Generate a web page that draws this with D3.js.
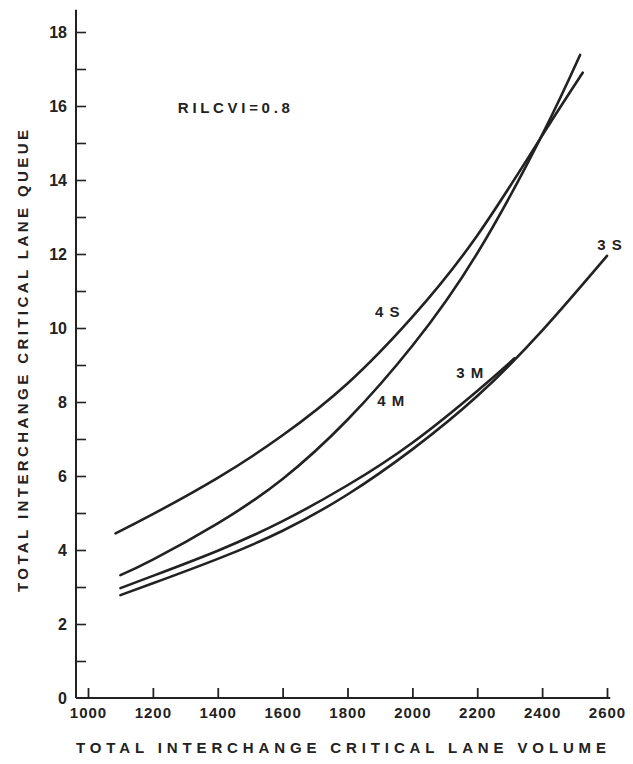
<!DOCTYPE html>
<html>
<head>
<meta charset="utf-8">
<script src="https://cdn.jsdelivr.net/npm/d3@7"></script>
<style>
  html, body { margin: 0; padding: 0; background: #fff; }
  svg { display: block; }
  text { font-family: "Liberation Sans", Arial, Helvetica, sans-serif; fill: #222; }
</style>
</head>
<body>
<svg id="chart" width="633" height="764"></svg>
<script>
// ---- data ----
const volume4S = [1085, 1200, 1400, 1600, 1800, 2000, 2200, 2400, 2525];
const queue4S  = [4.45, 4.97, 5.95, 7.1, 8.5, 10.3, 12.5, 15.2, 16.9];

const volume4M = [1100, 1200, 1400, 1600, 1800, 2000, 2200, 2400, 2517];
const queue4M  = [3.32, 3.74, 4.72, 5.92, 7.52, 9.52, 12.02, 15.22, 17.38];

const volume3M = [1100, 1200, 1400, 1600, 1800, 2000, 2200, 2315];
const queue3M  = [2.97, 3.3, 3.98, 4.78, 5.75, 6.9, 8.3, 9.18];

const volume3S = [1100, 1200, 1400, 1600, 1800, 2000, 2200, 2400, 2600];
const queue3S  = [2.78, 3.1, 3.76, 4.52, 5.5, 6.72, 8.16, 9.93, 11.95];

const seriesNames = ["4 S", "4 M", "3 M", "3 S"];
const labelVolume = [1885, 1892, 2135, 2570];
const labelQueue  = [10.3, 7.9, 8.65, 12.12];

const xTicks = [1000, 1200, 1400, 1600, 1800, 2000, 2200, 2400, 2600];
const yTicks = [0, 1, 2, 3, 4, 5, 6, 7, 8, 9, 10, 11, 12, 13, 14, 15, 16, 17, 18];
const yTickLabels = ["0", "", "2", "", "4", "", "6", "", "8", "", "10", "", "12", "", "14", "", "16", "", "18"];

const noteText = "RILCVI=0.8";
const noteVolume = 1277, noteQueue = 15.81;

const xTitle = "TOTAL INTERCHANGE CRITICAL LANE VOLUME";
const yTitle = "TOTAL INTERCHANGE CRITICAL LANE QUEUE";

// ---- drawing ----
const svg = d3.select("#chart");
const ink = "#222";

const x = d3.scaleLinear().domain([1000, 2600]).range([88, 607]);
const y = d3.scaleLinear().domain([0, 18]).range([698, 32]);

// axis lines
svg.append("line")
  .attr("x1", x(963)).attr("x2", x(963))
  .attr("y1", y(0)).attr("y2", y(18.6))
  .attr("stroke", ink).attr("stroke-width", 2);
svg.append("line")
  .attr("x1", x(963)).attr("x2", x(2610))
  .attr("y1", y(0)).attr("y2", y(0))
  .attr("stroke", ink).attr("stroke-width", 2);

// y axis ticks (inward)
const yAxis = d3.axisLeft(y)
  .tickValues(yTicks)
  .tickSizeInner(-10).tickSizeOuter(0)
  .tickPadding(9)
  .tickFormat((d, i) => yTickLabels[i]);
const gy = svg.append("g").attr("transform", `translate(${x(963)},0)`).call(yAxis);
gy.select(".domain").remove();
gy.selectAll(".tick line").attr("stroke", ink).attr("stroke-width", 1.6);
gy.selectAll(".tick text")
  .attr("font-size", 16).attr("font-weight", "bold")
  .style("font-family", '"Liberation Sans", Arial, sans-serif')
  .attr("fill", ink);
gy.selectAll(".tick").filter(d => d === 0).select("line").remove();

// x axis ticks (inward)
const xAxis = d3.axisBottom(x)
  .tickValues(xTicks)
  .tickSizeInner(-10).tickSizeOuter(0)
  .tickPadding(9)
  .tickFormat(d3.format("d"));
const gx = svg.append("g").attr("transform", `translate(0,${y(0)})`).call(xAxis);
gx.select(".domain").remove();
gx.selectAll(".tick line").attr("stroke", ink).attr("stroke-width", 1.8);
gx.selectAll(".tick text")
  .attr("font-size", 15).attr("font-weight", "bold")
  .attr("letter-spacing", 1)
  .style("font-family", '"Liberation Sans", Arial, sans-serif')
  .attr("fill", ink);

// curves
const seriesData = [
  d3.zip(volume4S, queue4S),
  d3.zip(volume4M, queue4M),
  d3.zip(volume3M, queue3M),
  d3.zip(volume3S, queue3S)
];
const line = d3.line()
  .x(d => x(d[0])).y(d => y(d[1]))
  .curve(d3.curveNatural);
svg.append("g").selectAll("path")
  .data(seriesData).join("path")
  .attr("d", line)
  .attr("fill", "none")
  .attr("stroke", ink)
  .attr("stroke-width", 2.6)
  .attr("stroke-linecap", "round");

// series labels
svg.append("g").selectAll("text")
  .data(seriesNames).join("text")
  .attr("x", (d, i) => x(labelVolume[i]))
  .attr("y", (d, i) => y(labelQueue[i]))
  .attr("font-size", 15).attr("font-weight", "bold")
  .attr("letter-spacing", 1)
  .text(d => d);

// note
svg.append("text")
  .attr("x", x(noteVolume)).attr("y", y(noteQueue))
  .attr("font-size", 15).attr("font-weight", "bold")
  .attr("textLength", 112).attr("lengthAdjust", "spacing")
  .text(noteText);

// axis titles
svg.append("text")
  .attr("x", 76).attr("y", 753)
  .attr("font-size", 15).attr("font-weight", "bold")
  .attr("textLength", 530).attr("lengthAdjust", "spacing")
  .text(xTitle);
svg.append("text")
  .attr("transform", "translate(28,592) rotate(-90)")
  .attr("x", 0).attr("y", 0)
  .attr("font-size", 15).attr("font-weight", "bold")
  .attr("textLength", 462).attr("lengthAdjust", "spacing")
  .text(yTitle);
</script>
</body>
</html>
